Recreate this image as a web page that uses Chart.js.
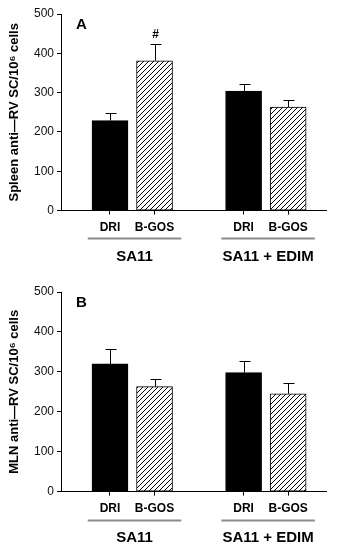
<!DOCTYPE html>
<html>
<head>
<meta charset="utf-8">
<script src="https://cdn.jsdelivr.net/npm/chart.js@4"></script>
<style>
  html, body { margin: 0; padding: 0; background: #fff; }
  .panel { width: 342px; height: 275px; position: relative; }
</style>
</head>
<body>
<div class="panel"><canvas id="spleenChart"></canvas></div>
<div class="panel"><canvas id="mlnChart"></canvas></div>
<script>
// groups and treatments
const groups = ['SA11', 'SA11 + EDIM'];
const treatments = ['DRI', 'B-GOS'];

// panel A: spleen
const spleenMeans = [229, 381, 304, 263];
const spleenSEM = [20, 43, 18, 19];
const spleenMarks = ['', '#', '', ''];

// panel B: MLN
const mlnMeans = [320, 263, 298, 245];
const mlnSEM = [36, 20, 29, 28];
const mlnMarks = ['', '', '', ''];

const yTicks = [0, 100, 200, 300, 400, 500];

const FONT = '"Liberation Sans", Arial, sans-serif';

// bar i sits in group floor(i/2), with one empty slot between groups
function slotOf(i) {
    return Math.floor(i / 2) * 3 + (i % 2) + 1;
}

function hatchPattern() {
    const s = 5;
    const c = document.createElement('canvas');
    c.width = s; c.height = s;
    const g = c.getContext('2d');
    g.fillStyle = '#fff';
    g.fillRect(0, 0, s, s);
    g.strokeStyle = '#000';
    g.lineWidth = 1;
    g.beginPath();
    g.moveTo(0, s); g.lineTo(s, 0);
    g.moveTo(-1, 1); g.lineTo(1, -1);
    g.moveTo(s - 1, s + 1); g.lineTo(s + 1, s - 1);
    g.stroke();
    return g.createPattern(c, 'repeat');
}

// error bars, significance marks, panel letter, group lines and labels
const extrasPlugin = {
    id: 'extras',
    afterDatasetsDraw(chart, args, opts) {
        const ctx = chart.ctx;
        const xs = chart.scales.x, ys = chart.scales.y;
        const meta = chart.getDatasetMeta(0);
        ctx.save();
        ctx.strokeStyle = '#000';
        ctx.lineWidth = 1;
        meta.data.forEach((bar, i) => {
            const top = ys.getPixelForValue(opts.means[i] + opts.sem[i]);
            const x = Math.round(bar.x) + 0.5;
            ctx.beginPath();
            ctx.moveTo(x, bar.y);
            ctx.lineTo(x, Math.round(top) + 0.5);
            ctx.moveTo(x - 5, Math.round(top) + 0.5);
            ctx.lineTo(x + 6, Math.round(top) + 0.5);
            ctx.stroke();
            if (opts.marks[i]) {
                ctx.fillStyle = '#000';
                ctx.font = 'bold 12px ' + FONT;
                ctx.textAlign = 'center';
                ctx.textBaseline = 'bottom';
                ctx.fillText(opts.marks[i], x, top - 3);
            }
        });

        const area = chart.chartArea;
        ctx.fillStyle = '#000';
        ctx.font = 'bold 15px ' + FONT;
        ctx.textAlign = 'left';
        ctx.textBaseline = 'middle';
        ctx.fillText(opts.letter, area.left + 15, area.top + 11);

        groups.forEach((name, g) => {
            const x1 = xs.getPixelForValue(slotOf(g * 2) - 0.5);
            const x2 = xs.getPixelForValue(slotOf(g * 2 + 1) + 0.6);
            ctx.strokeStyle = '#8c8c8c';
            ctx.lineWidth = 2;
            ctx.beginPath();
            ctx.moveTo(x1, area.bottom + opts.lineGap);
            ctx.lineTo(x2, area.bottom + opts.lineGap);
            ctx.stroke();
            ctx.fillStyle = '#000';
            ctx.font = 'bold 15px ' + FONT;
            ctx.textAlign = 'center';
            ctx.textBaseline = 'middle';
            ctx.fillText(name, (x1 + x2) / 2, area.bottom + 46);
        });
        ctx.restore();
    }
};

function makeChart(id, means, sem, marks, letter, yTitle, padTop, padBottom, lineGap) {
    const hatch = hatchPattern();
    const points = means.map((v, i) => ({ x: slotOf(i), y: v }));
    return new Chart(document.getElementById(id), {
        type: 'bar',
        data: {
            datasets: [{
                data: points,
                backgroundColor: means.map((v, i) => i % 2 === 0 ? '#000' : hatch),
                borderColor: '#000',
                borderWidth: 1,
                borderSkipped: false,
                barThickness: 36
            }]
        },
        options: {
            responsive: true,
            maintainAspectRatio: false,
            animation: false,
            layout: { padding: { top: padTop, right: 16, bottom: padBottom, left: 0 } },
            plugins: {
                legend: { display: false },
                tooltip: { enabled: false },
                extras: { means: means, sem: sem, marks: marks, letter: letter, lineGap: lineGap }
            },
            scales: {
                x: {
                    type: 'linear',
                    offset: false,
                    min: -0.1,
                    max: 5.85,
                    afterBuildTicks: function(scale) {
                        scale.ticks = means.map((v, i) => ({ value: slotOf(i) }));
                    },
                    grid: { drawOnChartArea: false, drawTicks: true, tickLength: 4, color: '#000', offset: false },
                    border: { display: true, color: '#000', width: 1 },
                    ticks: {
                        autoSkip: false,
                        maxRotation: 0,
                        padding: 6,
                        color: '#000',
                        font: { family: FONT, size: 12, weight: 'bold' },
                        callback: function(value, index) {
                            return treatments[index % 2];
                        }
                    }
                },
                y: {
                    min: 0,
                    max: 500,
                    afterBuildTicks: function(scale) {
                        scale.ticks = yTicks.map(v => ({ value: v }));
                    },
                    afterFit: function(scale) {
                        scale.width = 61;
                    },
                    grid: { drawOnChartArea: false, drawTicks: true, tickLength: 4, color: '#000' },
                    border: { display: true, color: '#000', width: 1 },
                    ticks: {
                        padding: 3,
                        color: '#111',
                        font: { family: FONT, size: 12 }
                    },
                    title: {
                        display: true,
                        text: yTitle,
                        color: '#000',
                        padding: { top: 7, bottom: 0 },
                        font: { family: FONT, size: 13, weight: 'bold' }
                    }
                }
            }
        },
        plugins: [extrasPlugin]
    });
}

makeChart('spleenChart', spleenMeans, spleenSEM, spleenMarks, 'A',
    'Spleen anti\u2014RV SC/10\u2076 cells', 14, 34, 28);
makeChart('mlnChart', mlnMeans, mlnSEM, mlnMarks, 'B',
    'MLN anti\u2014RV SC/10\u2076 cells', 17, 28, 29);
</script>
</body>
</html>
